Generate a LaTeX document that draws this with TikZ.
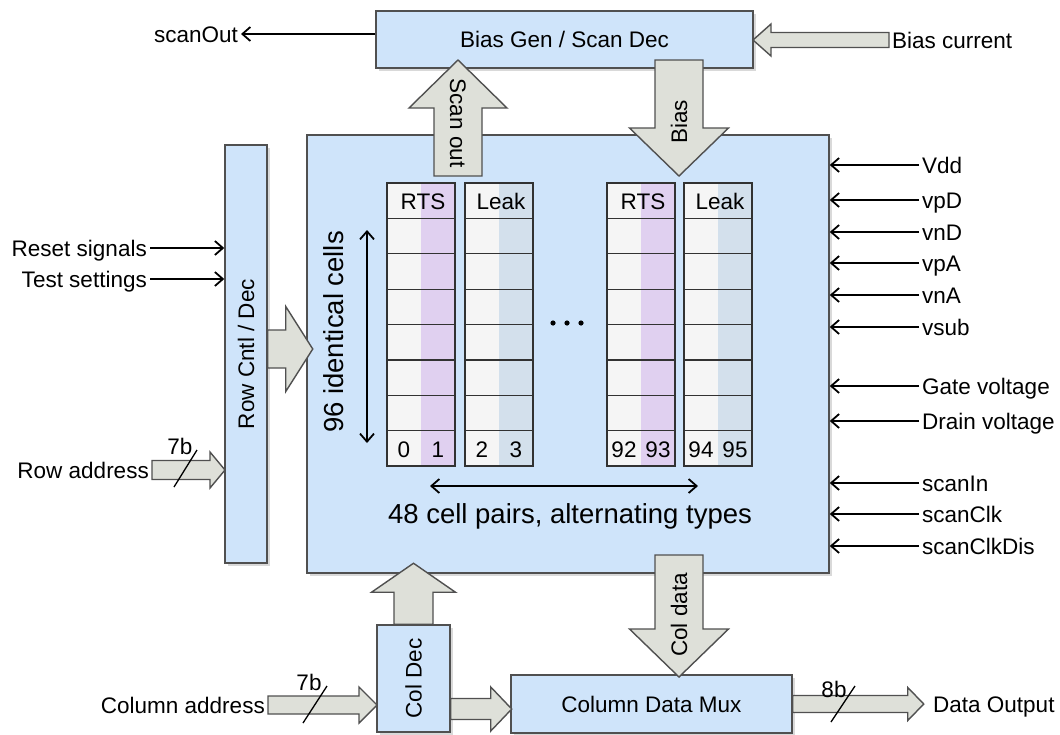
\documentclass[tikz,border=0pt]{standalone}
\usepackage{fontspec}
\setmainfont{Liberation Sans}
\usepackage{graphicx}
\usetikzlibrary{arrows.meta,shadows}

\definecolor{blockblue}{RGB}{207,228,250}
\definecolor{boxline}{RGB}{80,80,80}
\definecolor{arrowgray}{RGB}{222,224,217}
\definecolor{gridgray}{RGB}{50,50,50}
\definecolor{cellwhite}{RGB}{245,245,245}
\definecolor{rtspurple}{RGB}{224,208,240}
\definecolor{leakblue}{RGB}{211,224,236}

% fat arrow: tail, direction, length, shaft half width, head half width, head length
\newcommand{\fatarrow}[6]{%
  \begin{scope}[shift={#1}, rotate=#2]
    \draw[fat arrow] (0,-#4) -- (#3-#6,-#4) -- (#3-#6,-#5) -- (#3,0)
      -- (#3-#6,#5) -- (#3-#6,#4) -- (0,#4) -- cycle;
  \end{scope}}

\begin{document}
\begin{tikzpicture}[
    x=1pt, y=-1pt,
    every node/.style={font=\fontsize{22.5}{27}\selectfont, inner sep=3pt},
    block/.style={draw=boxline, line width=1.5pt, fill=blockblue, inner sep=0pt,
        drop shadow={shadow xshift=2.5pt, shadow yshift=-2.5pt, opacity=0.3}},
    lbl/.style={text height=16pt, text depth=0pt},
    big label/.style={font=\fontsize{27.5}{33}\selectfont, text height=20pt, text depth=0pt},
    fat arrow/.style={draw=boxline, line width=1.4pt, fill=arrowgray},
    signal/.style={line width=1.8pt, -{Straight Barb[length=8pt,width=14pt]}},
    both ways/.style={line width=1.8pt,
        {Straight Barb[length=8pt,width=14pt]}-{Straight Barb[length=8pt,width=14pt]}},
    grid line/.style={draw=gridgray, line width=1.3pt},
    slash/.style={line width=1.3pt},
    ]
\useasboundingbox (0,0) rectangle (1060,734);

% blocks
\node[block, minimum width=377pt, minimum height=57pt] (biasgen) at (564.5,39.5) {Bias Gen / Scan Dec};
\node[block, minimum width=522pt, minimum height=438pt] (array) at (568,354) {};
\node[block, minimum width=42pt, minimum height=418pt] (rowdec) at (246,354) {\rotatebox{90}{Row Cntl / Dec}};
\node[block, minimum width=73pt, minimum height=107pt] (coldec) at (413.5,678.5) {\rotatebox{90}{Col Dec}};
\node[block, minimum width=281pt, minimum height=58pt] (colmux) at (651.5,704) {Column Data Mux};

% cell columns
\foreach \cx/\stripe/\kind/\numa/\numb [count=\i] in
    {387/rtspurple/RTS/0/1, 465/leakblue/Leak/2/3, 607/rtspurple/RTS/92/93, 684/leakblue/Leak/94/95} {
  \fill[cellwhite] (\cx,183) rectangle (\cx+34,466);
  \fill[\stripe] (\cx+34,183) rectangle (\cx+68,466);
  \foreach \rw in {1,...,7}
    \draw[grid line] (\cx,183+35.4*\rw) -- (\cx+68,183+35.4*\rw);
  \draw[grid line] (\cx,183) rectangle (\cx+68,466);
  \node[lbl] (kind\i) at (\cx+36,201) {\kind};
  \node[lbl] (numa\i) at (\cx+17,449) {\numa};
  \node[lbl] (numb\i) at (\cx+51,449) {\numb};
}
\foreach \d in {0,1,2}
  \fill (553+14*\d,323) circle (2.6);

\node[big label, rotate=90] (ncells) at (333,332) {96 identical cells};
\coordinate (celltop) at (367,230);
\coordinate (cellbot) at (367,443);
\draw[both ways] (celltop) -- (cellbot);
\node[big label] (npairs) at (570,513) {48 cell pairs, alternating types};
\coordinate (pairleft) at (430,486);
\coordinate (pairright) at (698,486);
\draw[both ways] (pairleft) -- (pairright);

% labels
\node[lbl, anchor=west] (biascur) at (889,40) {Bias current};
\node[lbl, anchor=east] (scanout) at (241,34) {scanOut};
\node[lbl, anchor=east] (reset) at (150,248) {Reset signals};
\node[lbl, anchor=east] (test) at (150,279) {Test settings};
\node[lbl, anchor=east] (rowaddr) at (152,470) {Row address};
\node[lbl, anchor=east] (coladdr) at (268,705) {Column address};
\node[lbl, anchor=west] (dataout) at (930,704) {Data Output};

% fat arrows
\fatarrow{(biascur.west)}{180}{136}{7.5}{16}{18}
\fatarrow{(458,176)}{90}{116}{24}{49}{48}
\fatarrow{(679,60)}{-90}{116}{24}{49.5}{48}
\fatarrow{(rowdec.east |- 0,349)}{0}{45}{19}{42.5}{27}
\fatarrow{(rowaddr.east)}{0}{73}{9.5}{18}{15}
\fatarrow{(coldec.north)}{90}{61}{19.5}{42}{29}
\fatarrow{(coladdr.east)}{0}{109}{9}{18}{18}
\fatarrow{(coldec.east |- 0,709)}{0}{61}{10.5}{22}{21}
\fatarrow{(679,555)}{-90}{122}{24}{49.5}{48}
\fatarrow{(colmux.east |- 0,704)}{0}{131}{8.5}{16.5}{16}

\node[lbl, rotate=-90] (scanouttxt) at (458,123) {Scan out};
\node[lbl, rotate=90] (biastxt) at (679,122) {Bias};
\node[lbl, rotate=90] (coldatatxt) at (679,615) {Col data};

% bus widths
\node[lbl] (rowbits) at (180,446) {7b};
\draw[slash] (174,487) -- (197,450);
\node[lbl] (colbits) at (309,682) {7b};
\draw[slash] (303,723) -- (327,686);
\node[lbl] (outbits) at (834,689) {8b};
\draw[slash] (831,722) -- (855,686);

% thin signals
\draw[signal] (biasgen.west |- scanout) -- (scanout.east);
\draw[signal] (reset.east) -- (rowdec.west |- reset);
\draw[signal] (test.east) -- (rowdec.west |- test);
\foreach \y/\nm/\txt in {165/vdd/Vdd, 200/vpd/vpD, 232/vnd/vnD, 263/vpa/vpA, 295/vna/vnA,
    327/vsub/vsub, 386/vgate/Gate voltage, 421/vdrain/Drain voltage,
    483/scanin/scanIn, 514/scanclk/scanClk, 546/scanclkdis/scanClkDis} {
  \node[lbl, anchor=west] (\nm) at (919,\y) {\txt};
  \draw[signal] (\nm.west) -- (array.east |- \nm);
}
\end{tikzpicture}
\end{document}
